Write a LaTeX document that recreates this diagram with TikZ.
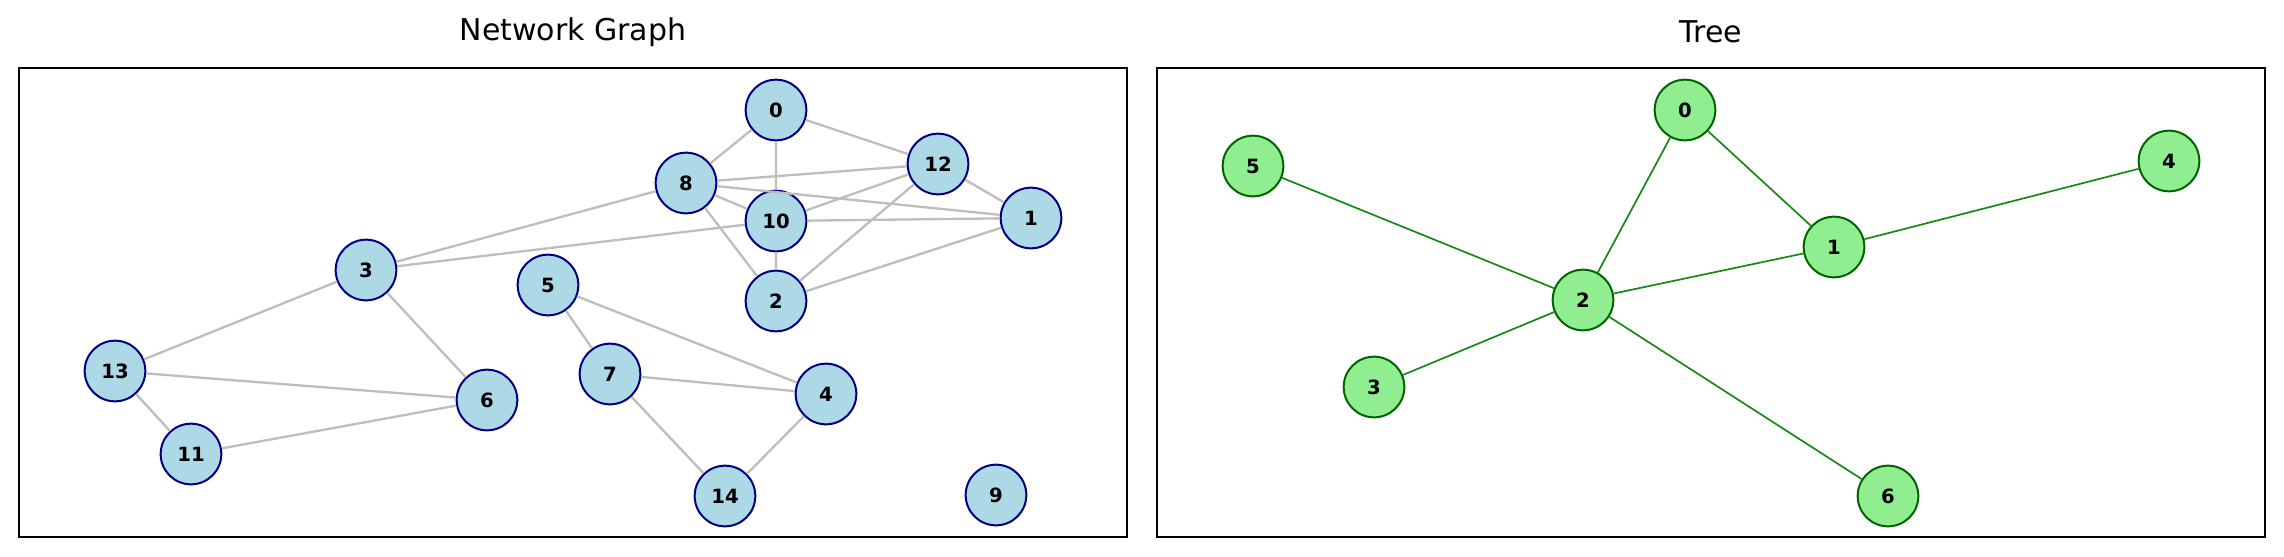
\documentclass[tikz,border=0pt]{standalone}
\usepackage{fontspec}
\setmainfont{DejaVu Sans}
\definecolor{netfill}{RGB}{173,216,230}
\definecolor{netline}{RGB}{0,0,128}
\definecolor{netedge}{RGB}{190,190,190}
\definecolor{treefill}{RGB}{144,238,144}
\definecolor{treeline}{RGB}{0,100,0}
\definecolor{treeedge}{RGB}{20,135,20}
\tikzset{
	netnode/.style={circle,draw=netline,fill=netfill,line width=0.6pt,minimum size=18.2pt,inner sep=0pt,font=\fontsize{5.9}{6}\selectfont\bfseries},
	treenode/.style={circle,draw=treeline,fill=treefill,line width=0.6pt,minimum size=18.2pt,inner sep=0pt,font=\fontsize{5.9}{6}\selectfont\bfseries},
	netlink/.style={draw=netedge,line width=0.7pt},
	treelink/.style={draw=treeedge,line width=0.5pt},
	frame/.style={draw=black,line width=0.5pt},
	heading/.style={font=\fontsize{9}{11}\selectfont}
}
\begin{document}
\begin{tikzpicture}[x=0.3pt,y=-0.3pt]
			\useasboundingbox(0,0)rectangle(2284,556);
			% network graph
			\draw[frame](19,68)rectangle(1127,537);
			\node[heading](nettitle)at(573,32){Network Graph};
			\node[netnode](n0)at(776,110){0};
			\node[netnode](n8)at(686,183){8};
			\node[netnode](n12)at(938,164){12};
			\node[netnode](n10)at(776,221){10};
			\node[netnode](n1)at(1031,218){1};
			\node[netnode](n3)at(366,270){3};
			\node[netnode](n5)at(548,285){5};
			\node[netnode](n2)at(776,301){2};
			\node[netnode](n13)at(115,371){13};
			\node[netnode](n7)at(610,374){7};
			\node[netnode](n4)at(826,394){4};
			\node[netnode](n6)at(487,400){6};
			\node[netnode](n11)at(191,454){11};
			\node[netnode](n14)at(725,496){14};
			\node[netnode](n9)at(996,495){9};
			\draw[netlink](n0)--(n8) (n0)--(n10) (n0)--(n12)
				(n8)--(n12) (n8)--(n10) (n8)--(n1) (n8)--(n2) (n8)--(n3)
				(n12)--(n10) (n12)--(n1) (n12)--(n2)
				(n10)--(n1) (n10)--(n2) (n10)--(n3) (n1)--(n2)
				(n3)--(n13) (n3)--(n6) (n13)--(n6) (n13)--(n11) (n11)--(n6)
				(n5)--(n7) (n5)--(n4) (n7)--(n4) (n7)--(n14) (n4)--(n14);
			% tree
			\draw[frame](1157,68)rectangle(2265,537);
			\node[heading](treetitle)at(1711,32){Tree};
			\node[treenode](t0)at(1685,110){0};
			\node[treenode](t5)at(1253,166){5};
			\node[treenode](t4)at(2169,161){4};
			\node[treenode](t1)at(1834,247){1};
			\node[treenode](t2)at(1583,300){2};
			\node[treenode](t3)at(1374,387){3};
			\node[treenode](t6)at(1888,496){6};
			\draw[treelink](t0)--(t2) (t0)--(t1) (t1)--(t4) (t1)--(t2)
				(t2)--(t5) (t2)--(t3) (t2)--(t6);
		\end{tikzpicture}
\end{document}
